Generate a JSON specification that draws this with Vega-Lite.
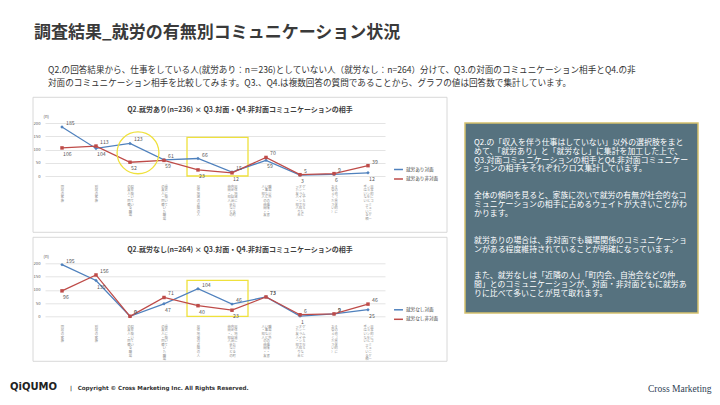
{
  "$schema": "https://vega.github.io/schema/vega-lite/v6.json",
  "padding": {"left": 10, "top": 24, "right": 4, "bottom": 4},
  "background": "#ffffff",
  "config": {"font": "Noto Sans CJK JP", "view": {"stroke": null}},
  "datasets": {
    "rows": [
      {"g": "就労あり", "c": "同居の家族", "s": "就労あり対面", "v": 185},
      {"g": "就労あり", "c": "別居の家族", "s": "就労あり対面", "v": 104},
      {"g": "就労あり", "c": "現在働いている職場|の友人・同僚", "s": "就労あり対面", "v": 123},
      {"g": "就労あり", "c": "過去に働いていた職場|の友人・同僚", "s": "就労あり対面", "v": 61},
      {"g": "就労あり", "c": "居住地域の近隣の人", "s": "就労あり対面", "v": 66},
      {"g": "就労あり", "c": "居住地域における町|内会、自治会などの|仲間・知人", "s": "就労あり対面", "v": 15},
      {"g": "就労あり", "c": "職場以外の趣味・習|い事などの仲間・友|人・知人", "s": "就労あり対面", "v": 59},
      {"g": "就労あり", "c": "ゲームやＳＮＳなど|オンラインで知り合|った友人・知人", "s": "就労あり対面", "v": 3},
      {"g": "就労あり", "c": "その他（具体的に|お答えください）", "s": "就労あり対面", "v": 6},
      {"g": "就労あり", "c": "日常的にコミュニケー|ションをとっている相|手はいない", "s": "就労あり対面", "v": 12},
      {"g": "就労あり", "c": "同居の家族", "s": "就労あり非対面", "v": 106},
      {"g": "就労あり", "c": "別居の家族", "s": "就労あり非対面", "v": 113},
      {"g": "就労あり", "c": "現在働いている職場|の友人・同僚", "s": "就労あり非対面", "v": 52},
      {"g": "就労あり", "c": "過去に働いていた職場|の友人・同僚", "s": "就労あり非対面", "v": 59},
      {"g": "就労あり", "c": "居住地域の近隣の人", "s": "就労あり非対面", "v": 23},
      {"g": "就労あり", "c": "居住地域における町|内会、自治会などの|仲間・知人", "s": "就労あり非対面", "v": 12},
      {"g": "就労あり", "c": "職場以外の趣味・習|い事などの仲間・友|人・知人", "s": "就労あり非対面", "v": 70},
      {"g": "就労あり", "c": "ゲームやＳＮＳなど|オンラインで知り合|った友人・知人", "s": "就労あり非対面", "v": 5},
      {"g": "就労あり", "c": "その他（具体的に|お答えください）", "s": "就労あり非対面", "v": 9},
      {"g": "就労あり", "c": "日常的にコミュニケー|ションをとっている相|手はいない", "s": "就労あり非対面", "v": 39},
      {"g": "就労なし", "c": "同居の家族", "s": "就労なし対面", "v": 195},
      {"g": "就労なし", "c": "別居の家族", "s": "就労なし対面", "v": 135},
      {"g": "就労なし", "c": "現在働いている職場|の友人・同僚", "s": "就労なし対面", "v": 0},
      {"g": "就労なし", "c": "過去に働いていた職場|の友人・同僚", "s": "就労なし対面", "v": 47},
      {"g": "就労なし", "c": "居住地域の近隣の人", "s": "就労なし対面", "v": 104},
      {"g": "就労なし", "c": "居住地域における町|内会、自治会などの|仲間・知人", "s": "就労なし対面", "v": 46},
      {"g": "就労なし", "c": "職場以外の趣味・習|い事などの仲間・友|人・知人", "s": "就労なし対面", "v": 73},
      {"g": "就労なし", "c": "ゲームやＳＮＳなど|オンラインで知り合|った友人・知人", "s": "就労なし対面", "v": 1},
      {"g": "就労なし", "c": "その他（具体的に|お答えください）", "s": "就労なし対面", "v": 9},
      {"g": "就労なし", "c": "日常的にコミュニケー|ションをとっている相|手はいない", "s": "就労なし対面", "v": 25},
      {"g": "就労なし", "c": "同居の家族", "s": "就労なし非対面", "v": 96},
      {"g": "就労なし", "c": "別居の家族", "s": "就労なし非対面", "v": 156},
      {"g": "就労なし", "c": "現在働いている職場|の友人・同僚", "s": "就労なし非対面", "v": 0},
      {"g": "就労なし", "c": "過去に働いていた職場|の友人・同僚", "s": "就労なし非対面", "v": 71},
      {"g": "就労なし", "c": "居住地域の近隣の人", "s": "就労なし非対面", "v": 40},
      {"g": "就労なし", "c": "居住地域における町|内会、自治会などの|仲間・知人", "s": "就労なし非対面", "v": 23},
      {"g": "就労なし", "c": "職場以外の趣味・習|い事などの仲間・友|人・知人", "s": "就労なし非対面", "v": 73},
      {"g": "就労なし", "c": "ゲームやＳＮＳなど|オンラインで知り合|った友人・知人", "s": "就労なし非対面", "v": 6},
      {"g": "就労なし", "c": "その他（具体的に|お答えください）", "s": "就労なし非対面", "v": 9},
      {"g": "就労なし", "c": "日常的にコミュニケー|ションをとっている相|手はいない", "s": "就労なし非対面", "v": 46}
    ]
  },
  "title": {
    "text": "調査結果_就労の有無別コミュニケーション状況",
    "anchor": "start", "frame": "group", "dx": -11, "offset": 24,
    "fontSize": 17, "fontWeight": "bold", "color": "#3a3a3a"
  },
  "hconcat": [
    {
      "title": {
        "text": [
          "Q2.の回答結果から、仕事をしている人(就労あり：n＝236)としていない人（就労なし：n=264）分けて、Q3.の対面のコミュニケーション相手とQ4.の非",
          "対面のコミュニケーション相手を比較してみます。Q3.、Q4.は複数回答の質問であることから、グラフの値は回答数で集計しています。"
        ],
        "anchor": "start", "frame": "group", "dx": 3, "offset": 9.5,
        "fontSize": 8.6, "lineHeight": 12.5, "fontWeight": "normal", "color": "#333333"
      },
      "bounds": "flush",
      "spacing": 87.3,
      "resolve": {"scale": {"color": "independent"}, "legend": {"color": "independent"}},
      "vconcat": [
        {
          "width": 340,
          "height": 53,
          "data": {"name": "rows"},
          "transform": [{"filter": "datum.g === '就労あり'"}],
          "title": {"text": "Q2.就労あり(n=236) × Q3.対面・Q4.非対面コミュニケーションの相手", "frame": "bounds", "anchor": "middle", "fontSize": 7, "fontWeight": "bold", "color": "#404040", "offset": -16.5},
          "resolve": {"scale": {"x": "independent", "y": "independent"}, "axis": {"x": "independent", "y": "independent"}},
          "layer": [
            {"data": {"values": [{"panel": "就労あり"}]},
             "mark": {"type": "rect", "fill": "transparent", "stroke": "#d4d4d4", "strokeWidth": 0.9, "xOffset": -29, "x2Offset": 79, "yOffset": -25.7, "y2Offset": 56.3},
             "encoding": {
               "x": {"datum": "同居の家族", "type": "nominal", "scale": {"type": "point", "padding": 0.5, "domain": ["同居の家族", "別居の家族", "現在働いている職場|の友人・同僚", "過去に働いていた職場|の友人・同僚", "居住地域の近隣の人", "居住地域における町|内会、自治会などの|仲間・知人", "職場以外の趣味・習|い事などの仲間・友|人・知人", "ゲームやＳＮＳなど|オンラインで知り合|った友人・知人", "その他（具体的に|お答えください）", "日常的にコミュニケー|ションをとっている相|手はいない"]}, "axis": null},
               "x2": {"datum": "日常的にコミュニケー|ションをとっている相|手はいない"},
               "y": {"datum": 200, "type": "quantitative", "scale": {"domain": [0, 200], "nice": false}, "axis": null},
               "y2": {"datum": 0}
             }},
            {"data": {"values": [{"from": "居住地域の近隣の人", "to": "居住地域における町|内会、自治会などの|仲間・知人"}]},
             "mark": {"type": "rect", "fill": "transparent", "stroke": "#efe13c", "strokeWidth": 1.3, "xOffset": -11, "x2Offset": 16, "yOffset": 14.3, "y2Offset": 2.3},
             "encoding": {
               "x": {"field": "from", "type": "nominal", "scale": {"type": "point", "padding": 0.5, "domain": ["同居の家族", "別居の家族", "現在働いている職場|の友人・同僚", "過去に働いていた職場|の友人・同僚", "居住地域の近隣の人", "居住地域における町|内会、自治会などの|仲間・知人", "職場以外の趣味・習|い事などの仲間・友|人・知人", "ゲームやＳＮＳなど|オンラインで知り合|った友人・知人", "その他（具体的に|お答えください）", "日常的にコミュニケー|ションをとっている相|手はいない"]}, "axis": null},
               "x2": {"field": "to"}
             }},
            {
              "encoding": {
                "x": {
                  "field": "c", "type": "nominal",
                  "scale": {"type": "point", "padding": 0.5, "domain": ["同居の家族", "別居の家族", "現在働いている職場|の友人・同僚", "過去に働いていた職場|の友人・同僚", "居住地域の近隣の人", "居住地域における町|内会、自治会などの|仲間・知人", "職場以外の趣味・習|い事などの仲間・友|人・知人", "ゲームやＳＮＳなど|オンラインで知り合|った友人・知人", "その他（具体的に|お答えください）", "日常的にコミュニケー|ションをとっている相|手はいない"]},
                  "axis": {
                    "title": null, "domain": false, "ticks": false, "labelAngle": 0, "labelOverlap": false,
                    "labelPadding": 8, "labelFontSize": 3.3, "labelLineHeight": 3.6, "labelColor": "#8c8c8c", "labelBaseline": "top",
                    "labelExpr": "[(length(split(datum.label,'|'))>2?(substring(split(datum.label,'|')[2],0,1)||'\u3000'):'')+(length(split(datum.label,'|'))>1?(substring(split(datum.label,'|')[1],0,1)||'\u3000'):'')+(substring(split(datum.label,'|')[0],0,1)||'\u3000'),(length(split(datum.label,'|'))>2?(substring(split(datum.label,'|')[2],1,2)||'\u3000'):'')+(length(split(datum.label,'|'))>1?(substring(split(datum.label,'|')[1],1,2)||'\u3000'):'')+(substring(split(datum.label,'|')[0],1,2)||'\u3000'),(length(split(datum.label,'|'))>2?(substring(split(datum.label,'|')[2],2,3)||'\u3000'):'')+(length(split(datum.label,'|'))>1?(substring(split(datum.label,'|')[1],2,3)||'\u3000'):'')+(substring(split(datum.label,'|')[0],2,3)||'\u3000'),(length(split(datum.label,'|'))>2?(substring(split(datum.label,'|')[2],3,4)||'\u3000'):'')+(length(split(datum.label,'|'))>1?(substring(split(datum.label,'|')[1],3,4)||'\u3000'):'')+(substring(split(datum.label,'|')[0],3,4)||'\u3000'),(length(split(datum.label,'|'))>2?(substring(split(datum.label,'|')[2],4,5)||'\u3000'):'')+(length(split(datum.label,'|'))>1?(substring(split(datum.label,'|')[1],4,5)||'\u3000'):'')+(substring(split(datum.label,'|')[0],4,5)||'\u3000'),(length(split(datum.label,'|'))>2?(substring(split(datum.label,'|')[2],5,6)||'\u3000'):'')+(length(split(datum.label,'|'))>1?(substring(split(datum.label,'|')[1],5,6)||'\u3000'):'')+(substring(split(datum.label,'|')[0],5,6)||'\u3000'),(length(split(datum.label,'|'))>2?(substring(split(datum.label,'|')[2],6,7)||'\u3000'):'')+(length(split(datum.label,'|'))>1?(substring(split(datum.label,'|')[1],6,7)||'\u3000'):'')+(substring(split(datum.label,'|')[0],6,7)||'\u3000'),(length(split(datum.label,'|'))>2?(substring(split(datum.label,'|')[2],7,8)||'\u3000'):'')+(length(split(datum.label,'|'))>1?(substring(split(datum.label,'|')[1],7,8)||'\u3000'):'')+(substring(split(datum.label,'|')[0],7,8)||'\u3000'),(length(split(datum.label,'|'))>2?(substring(split(datum.label,'|')[2],8,9)||'\u3000'):'')+(length(split(datum.label,'|'))>1?(substring(split(datum.label,'|')[1],8,9)||'\u3000'):'')+(substring(split(datum.label,'|')[0],8,9)||'\u3000'),(length(split(datum.label,'|'))>2?(substring(split(datum.label,'|')[2],9,10)||'\u3000'):'')+(length(split(datum.label,'|'))>1?(substring(split(datum.label,'|')[1],9,10)||'\u3000'):'')+(substring(split(datum.label,'|')[0],9,10)||'\u3000')]"
                  }
                },
                "y": {
                  "field": "v", "type": "quantitative",
                  "scale": {"domain": [0, 200], "nice": false},
                  "axis": {"values": [0, 50, 100, 150, 200], "grid": true, "gridColor": "#d9d9d9", "gridWidth": 0.7, "domain": false, "ticks": false, "labelFontSize": 4.2, "labelColor": "#595959", "labelPadding": 5, "title": "(n)", "titleAngle": 0, "titleFontSize": 4.2, "titleFontWeight": "normal", "titleColor": "#595959", "titleAlign": "left", "titleBaseline": "bottom", "titleX": -2, "titleY": -5}
                }
              },
              "layer": [
                {"mark": {"type": "line", "strokeWidth": 1.3},
                 "encoding": {"color": {"field": "s", "type": "nominal", "scale": {"domain": ["就労あり対面", "就労あり非対面"], "range": ["#4f81bd", "#be4b48"]},
                   "legend": {"orient": "none", "legendX": 348, "legendY": 41, "title": null, "symbolType": "stroke", "symbolSize": 80, "symbolStrokeWidth": 1.5, "labelFontSize": 4.6, "labelColor": "#404040", "rowPadding": 0.5, "labelOffset": 2, "padding": 0}}}},
                {"transform": [{"filter": "indexof(datum.s, '非対面') < 0"}],
                 "mark": {"type": "point", "shape": "diamond", "filled": true, "size": 12, "opacity": 1, "color": "#4f81bd"}},
                {"transform": [{"filter": "indexof(datum.s, '非対面') >= 0"}],
                 "mark": {"type": "point", "shape": "square", "filled": true, "size": 12, "opacity": 1, "color": "#be4b48"}},
                {"transform": [{"filter": "datum.c === '現在働いている職場|の友人・同僚'"}, {"aggregate": [{"op": "mean", "field": "v", "as": "v"}], "groupby": ["c"]}],
                 "mark": {"type": "point", "shape": "circle", "size": 1750, "filled": false, "stroke": "#efe13c", "strokeWidth": 1.3, "opacity": 1, "xOffset": 8}},
                {"transform": [{"joinaggregate": [{"op": "max", "field": "v", "as": "top"}], "groupby": ["c"]}, {"filter": "datum.v >= datum.top"}],
                 "mark": {"type": "text", "align": "left", "baseline": "middle", "dx": 4, "dy": -4, "fontSize": 5.2, "color": "#595959"},
                 "encoding": {"text": {"field": "v", "type": "quantitative"}}},
                {"transform": [{"joinaggregate": [{"op": "max", "field": "v", "as": "top"}], "groupby": ["c"]}, {"filter": "datum.v < datum.top"}],
                 "mark": {"type": "text", "align": "left", "baseline": "middle", "dx": 1, "dy": 6, "fontSize": 5.2, "color": "#595959"},
                 "encoding": {"text": {"field": "v", "type": "quantitative"}}}
              ]
            }
          ]
        },
        {
          "title": {"text": "QiQUMO", "orient": "bottom", "anchor": "start", "frame": "group", "dx": -35, "offset": -9, "fontSize": 10, "fontWeight": "bold", "color": "#222222", "font": "DejaVu Sans"},
          "bounds": "flush",
          "vconcat": [
            {
              "title": {"text": "|\u2003Copyright © Cross Marketing Inc. All Rights Reserved.", "orient": "bottom", "anchor": "start", "frame": "group", "dx": 25, "offset": 24, "fontSize": 5.6, "fontWeight": "bold", "color": "#333333", "font": "DejaVu Sans"},
              "bounds": "flush",
              "vconcat": [
                {
                  "width": 340,
                  "height": 53,
                  "data": {"name": "rows"},
                  "transform": [{"filter": "datum.g === '就労なし'"}],
                  "title": {"text": "Q2.就労なし(n=264) × Q3.対面・Q4.非対面コミュニケーションの相手", "frame": "bounds", "anchor": "middle", "fontSize": 7, "fontWeight": "bold", "color": "#404040", "offset": -16.5},
                  "resolve": {"scale": {"x": "independent", "y": "independent"}, "axis": {"x": "independent", "y": "independent"}},
                  "layer": [
                    {"data": {"values": [{"panel": "就労なし"}]},
                     "mark": {"type": "rect", "fill": "transparent", "stroke": "#d4d4d4", "strokeWidth": 0.9, "xOffset": -29, "x2Offset": 79, "yOffset": -26, "y2Offset": 45},
                     "encoding": {
                       "x": {"datum": "同居の家族", "type": "nominal", "scale": {"type": "point", "padding": 0.5, "domain": ["同居の家族", "別居の家族", "現在働いている職場|の友人・同僚", "過去に働いていた職場|の友人・同僚", "居住地域の近隣の人", "居住地域における町|内会、自治会などの|仲間・知人", "職場以外の趣味・習|い事などの仲間・友|人・知人", "ゲームやＳＮＳなど|オンラインで知り合|った友人・知人", "その他（具体的に|お答えください）", "日常的にコミュニケー|ションをとっている相|手はいない"]}, "axis": null},
                       "x2": {"datum": "日常的にコミュニケー|ションをとっている相|手はいない"},
                       "y": {"datum": 200, "type": "quantitative", "scale": {"domain": [0, 200], "nice": false}, "axis": null},
                       "y2": {"datum": 0}
                     }},
                    {"data": {"values": [{"from": "居住地域の近隣の人", "to": "居住地域における町|内会、自治会などの|仲間・知人"}]},
                     "mark": {"type": "rect", "fill": "transparent", "stroke": "#efe13c", "strokeWidth": 1.3, "xOffset": -11, "x2Offset": 16, "yOffset": 17, "y2Offset": 1},
                     "encoding": {
                       "x": {"field": "from", "type": "nominal", "scale": {"type": "point", "padding": 0.5, "domain": ["同居の家族", "別居の家族", "現在働いている職場|の友人・同僚", "過去に働いていた職場|の友人・同僚", "居住地域の近隣の人", "居住地域における町|内会、自治会などの|仲間・知人", "職場以外の趣味・習|い事などの仲間・友|人・知人", "ゲームやＳＮＳなど|オンラインで知り合|った友人・知人", "その他（具体的に|お答えください）", "日常的にコミュニケー|ションをとっている相|手はいない"]}, "axis": null},
                       "x2": {"field": "to"}
                     }},
                    {
                      "encoding": {
                        "x": {
                          "field": "c", "type": "nominal",
                          "scale": {"type": "point", "padding": 0.5, "domain": ["同居の家族", "別居の家族", "現在働いている職場|の友人・同僚", "過去に働いていた職場|の友人・同僚", "居住地域の近隣の人", "居住地域における町|内会、自治会などの|仲間・知人", "職場以外の趣味・習|い事などの仲間・友|人・知人", "ゲームやＳＮＳなど|オンラインで知り合|った友人・知人", "その他（具体的に|お答えください）", "日常的にコミュニケー|ションをとっている相|手はいない"]},
                          "axis": {
                            "title": null, "domain": false, "ticks": false, "labelAngle": 0, "labelOverlap": false,
                            "labelPadding": 8, "labelFontSize": 3.3, "labelLineHeight": 3.6, "labelColor": "#8c8c8c", "labelBaseline": "top",
                            "labelExpr": "[(length(split(datum.label,'|'))>2?(substring(split(datum.label,'|')[2],0,1)||'\u3000'):'')+(length(split(datum.label,'|'))>1?(substring(split(datum.label,'|')[1],0,1)||'\u3000'):'')+(substring(split(datum.label,'|')[0],0,1)||'\u3000'),(length(split(datum.label,'|'))>2?(substring(split(datum.label,'|')[2],1,2)||'\u3000'):'')+(length(split(datum.label,'|'))>1?(substring(split(datum.label,'|')[1],1,2)||'\u3000'):'')+(substring(split(datum.label,'|')[0],1,2)||'\u3000'),(length(split(datum.label,'|'))>2?(substring(split(datum.label,'|')[2],2,3)||'\u3000'):'')+(length(split(datum.label,'|'))>1?(substring(split(datum.label,'|')[1],2,3)||'\u3000'):'')+(substring(split(datum.label,'|')[0],2,3)||'\u3000'),(length(split(datum.label,'|'))>2?(substring(split(datum.label,'|')[2],3,4)||'\u3000'):'')+(length(split(datum.label,'|'))>1?(substring(split(datum.label,'|')[1],3,4)||'\u3000'):'')+(substring(split(datum.label,'|')[0],3,4)||'\u3000'),(length(split(datum.label,'|'))>2?(substring(split(datum.label,'|')[2],4,5)||'\u3000'):'')+(length(split(datum.label,'|'))>1?(substring(split(datum.label,'|')[1],4,5)||'\u3000'):'')+(substring(split(datum.label,'|')[0],4,5)||'\u3000'),(length(split(datum.label,'|'))>2?(substring(split(datum.label,'|')[2],5,6)||'\u3000'):'')+(length(split(datum.label,'|'))>1?(substring(split(datum.label,'|')[1],5,6)||'\u3000'):'')+(substring(split(datum.label,'|')[0],5,6)||'\u3000'),(length(split(datum.label,'|'))>2?(substring(split(datum.label,'|')[2],6,7)||'\u3000'):'')+(length(split(datum.label,'|'))>1?(substring(split(datum.label,'|')[1],6,7)||'\u3000'):'')+(substring(split(datum.label,'|')[0],6,7)||'\u3000'),(length(split(datum.label,'|'))>2?(substring(split(datum.label,'|')[2],7,8)||'\u3000'):'')+(length(split(datum.label,'|'))>1?(substring(split(datum.label,'|')[1],7,8)||'\u3000'):'')+(substring(split(datum.label,'|')[0],7,8)||'\u3000'),(length(split(datum.label,'|'))>2?(substring(split(datum.label,'|')[2],8,9)||'\u3000'):'')+(length(split(datum.label,'|'))>1?(substring(split(datum.label,'|')[1],8,9)||'\u3000'):'')+(substring(split(datum.label,'|')[0],8,9)||'\u3000'),(length(split(datum.label,'|'))>2?(substring(split(datum.label,'|')[2],9,10)||'\u3000'):'')+(length(split(datum.label,'|'))>1?(substring(split(datum.label,'|')[1],9,10)||'\u3000'):'')+(substring(split(datum.label,'|')[0],9,10)||'\u3000')]"
                          }
                        },
                        "y": {
                          "field": "v", "type": "quantitative",
                          "scale": {"domain": [0, 200], "nice": false},
                          "axis": {"values": [0, 50, 100, 150, 200], "grid": true, "gridColor": "#d9d9d9", "gridWidth": 0.7, "domain": false, "ticks": false, "labelFontSize": 4.2, "labelColor": "#595959", "labelPadding": 5, "title": "(n)", "titleAngle": 0, "titleFontSize": 4.2, "titleFontWeight": "normal", "titleColor": "#595959", "titleAlign": "left", "titleBaseline": "bottom", "titleX": -2, "titleY": -5}
                        }
                      },
                      "layer": [
                        {"mark": {"type": "line", "strokeWidth": 1.3},
                         "encoding": {"color": {"field": "s", "type": "nominal", "scale": {"domain": ["就労なし対面", "就労なし非対面"], "range": ["#4f81bd", "#be4b48"]},
                           "legend": {"orient": "none", "legendX": 348, "legendY": 41, "title": null, "symbolType": "stroke", "symbolSize": 80, "symbolStrokeWidth": 1.5, "labelFontSize": 4.6, "labelColor": "#404040", "rowPadding": 0.5, "labelOffset": 2, "padding": 0}}}},
                        {"transform": [{"filter": "indexof(datum.s, '非対面') < 0"}],
                         "mark": {"type": "point", "shape": "diamond", "filled": true, "size": 12, "opacity": 1, "color": "#4f81bd"}},
                        {"transform": [{"filter": "indexof(datum.s, '非対面') >= 0"}],
                         "mark": {"type": "point", "shape": "square", "filled": true, "size": 12, "opacity": 1, "color": "#be4b48"}},
                        {"transform": [{"joinaggregate": [{"op": "max", "field": "v", "as": "top"}], "groupby": ["c"]}, {"filter": "datum.v >= datum.top"}],
                         "mark": {"type": "text", "align": "left", "baseline": "middle", "dx": 4, "dy": -4, "fontSize": 5.2, "color": "#595959"},
                         "encoding": {"text": {"field": "v", "type": "quantitative"}}},
                        {"transform": [{"joinaggregate": [{"op": "max", "field": "v", "as": "top"}], "groupby": ["c"]}, {"filter": "datum.v < datum.top"}],
                         "mark": {"type": "text", "align": "left", "baseline": "middle", "dx": 1, "dy": 6, "fontSize": 5.2, "color": "#595959"},
                         "encoding": {"text": {"field": "v", "type": "quantitative"}}}
                      ]
                    }
                  ]
                }
              ]
            }
          ]
        }
      ]
    },
    {
      "title": {"text": "Cross Marketing", "orient": "bottom", "anchor": "start", "frame": "group", "dx": 183, "offset": 70, "fontSize": 9.5, "font": "Liberation Serif", "fontWeight": "normal", "color": "#2f3f55"},
      "bounds": "flush",
      "vconcat": [
        {
          "width": 233,
          "height": 190,
          "data": {"values": [{"panel": "コメント"}]},
          "mark": {"type": "rect", "fill": "#56727f", "stroke": "#d5c16e", "strokeWidth": 1.5},
          "title": {
            "text": [
              "Q2.の「収入を伴う仕事はしていない」以外の選択肢をまと",
              "めて、「就労あり」と「就労なし」に集計を加工した上で、",
              "Q3.対面コミュニケーションの相手とQ4.非対面コミュニケー",
              "ションの相手をそれぞれクロス集計しています。",
              "\u200b",
              "\u200b",
              "全体の傾向を見ると、家族に次いで就労の有無が社会的なコ",
              "ミュニケーションの相手に占めるウェイトが大きいことがわ",
              "かります。",
              "\u200b",
              "\u200b",
              "就労ありの場合は、非対面でも職場関係のコミュニケーショ",
              "ンがある程度維持されていることが明確になっています。",
              "\u200b",
              "\u200b",
              "また、就労なしは「近隣の人」「町内会、自治会などの仲",
              "間」とのコミュニケーションが、対面・非対面ともに就労あ",
              "りに比べて多いことが見て取れます。"
            ],
            "orient": "bottom", "anchor": "start", "frame": "group", "baseline": "top",
            "dx": 9, "offset": -175, "fontSize": 7.9, "lineHeight": 8.9, "fontWeight": "normal", "color": "#ffffff"
          }
        }
      ]
    }
  ],
  "spacing": 420,
  "bounds": "flush"
}
